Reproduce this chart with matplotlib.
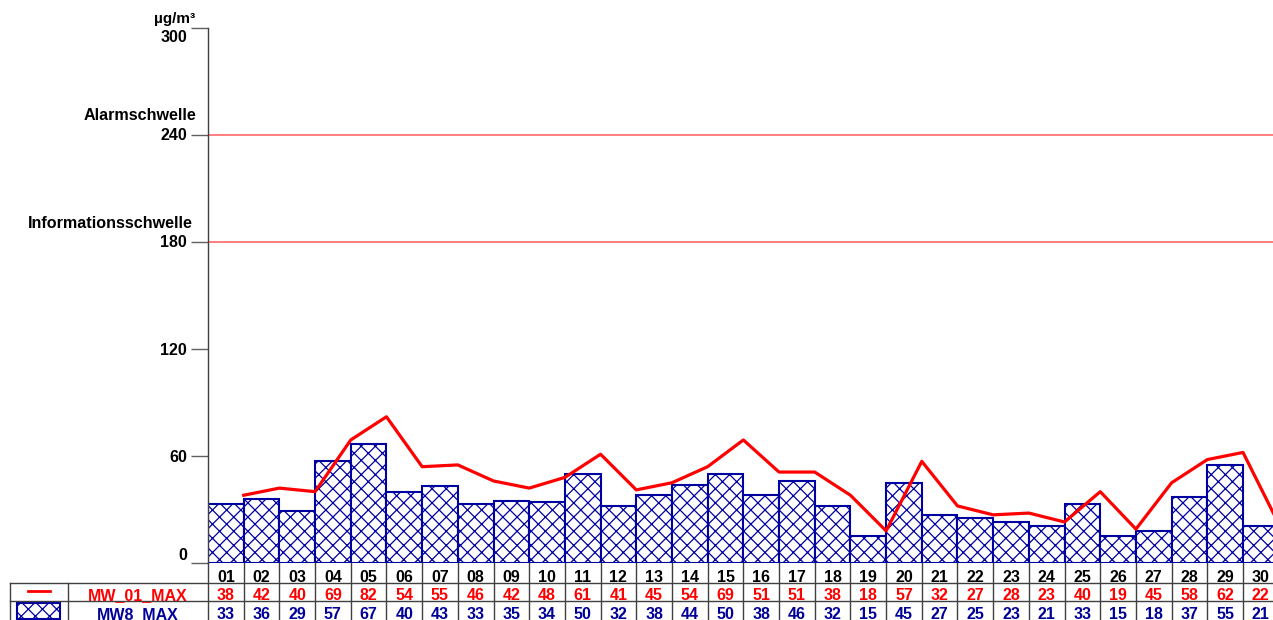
import numpy as np
import matplotlib
matplotlib.use('Agg')
import matplotlib.pyplot as plt
from matplotlib.transforms import blended_transform_factory
from matplotlib.patches import Rectangle
from matplotlib.lines import Line2D

# ---------------- data ----------------
days = [f"{d:02d}" for d in range(1, 31)]
mw01_max = [38, 42, 40, 69, 82, 54, 55, 46, 42, 48, 61, 41, 45, 54, 69,
            51, 51, 38, 18, 57, 32, 27, 28, 23, 40, 19, 45, 58, 62, 22]
mw8_max = [33, 36, 29, 57, 67, 40, 43, 33, 35, 34, 50, 32, 38, 44, 50,
           38, 46, 32, 15, 45, 27, 25, 23, 21, 33, 15, 18, 37, 55, 21]
series_names = ["MW_01_MAX", "MW8_MAX"]
thresholds = [180, 240]
threshold_labels = ["Informationsschwelle", "Alarmschwelle"]
yticks = [0, 60, 120, 180, 240, 300]
unit = "µg/m³"

# dpi chosen so the hatch pattern has the reference's density;
# all point sizes are rescaled by S to keep pixel sizes as designed at 100 dpi
DPI = 85
S = 100 / DPI

plt.rcParams['font.family'] = ['Liberation Sans', 'DejaVu Sans']
plt.rcParams['font.weight'] = 'bold'
plt.rcParams['hatch.linewidth'] = 0.9 * S

RED = '#ff0000'
BLUE = '#0000a0'
BLUE_TXT = '#000099'
GRID = '#404040'

W, H = 1273, 620
fig = plt.figure(figsize=(W / DPI, H / DPI), dpi=DPI)


def fx(px):
    return px / W


def fy(py):
    return 1 - py / H


x_left, x_right = 208, 1278.7
y_zero, y_top = 563, 28
ax = fig.add_axes([fx(x_left), fy(y_zero), (x_right - x_left) / W, (y_zero - y_top) / H])
n = len(days)
ax.set_xlim(0, n)
ax.set_ylim(0, 300)

pos = np.arange(n)
ax.bar(pos + 0.5, mw8_max, width=1.0, facecolor='white', edgecolor=BLUE,
       hatch='xx', linewidth=1.5 * S, zorder=2)
ax.plot(pos + 1, mw01_max, color=RED, lw=2.3 * S, zorder=3)
for t in thresholds:
    ax.axhline(t, color='#ff5a5a', lw=1.1 * S, zorder=1)

for s in ['top', 'right', 'bottom']:
    ax.spines[s].set_visible(False)
ax.spines['left'].set_color('#404040')
ax.spines['left'].set_linewidth(1.0 * S)
ax.set_xticks([])
ax.set_yticks(yticks)
ax.set_yticklabels([])
ax.tick_params(axis='y', length=12 * S, width=1 * S, color='#606060', direction='out')

# y tick labels (manual placement like the reference)
label_y = {300: 37, 240: 135, 180: 243, 120: 350, 60: 457, 0: 555}
for v in yticks:
    fig.text(fx(187), fy(label_y[v]), str(v), ha='right', va='center',
             fontsize=11.5 * S, weight='bold', color='black')

fig.text(fx(196), fy(115), threshold_labels[1], ha='right', va='center',
         fontsize=11.6 * S, weight='bold')
fig.text(fx(193), fy(224), threshold_labels[0], ha='right', va='center',
         fontsize=11.6 * S, weight='bold')
fig.text(fx(195), fy(19), unit, ha='right', va='center', fontsize=11 * S, weight='bold')

# ---------------- data table ----------------
trans = blended_transform_factory(ax.transData, fig.transFigure)
baselines = [581.5, 599.8, 618.7]

for i in range(n + 1):
    fig.add_artist(Line2D([i, i], [fy(563), fy(620)], transform=trans,
                          color=GRID, lw=1.0 * S))
for yline in [582.5, 601]:
    fig.add_artist(Line2D([fx(10), 1.01], [fy(yline), fy(yline)],
                          transform=fig.transFigure, color=GRID, lw=1.0 * S))
for xline in [10, 68]:
    fig.add_artist(Line2D([fx(xline), fx(xline)], [fy(582.5), fy(620)],
                          transform=fig.transFigure, color=GRID, lw=1.0 * S))

for i in range(n):
    ax.text(i + 0.5, fy(baselines[0]), days[i], transform=trans, ha='center',
            va='baseline', fontsize=11.5 * S, weight='bold', color='black', clip_on=False)
    ax.text(i + 0.5, fy(baselines[1]), str(mw01_max[i]), transform=trans, ha='center',
            va='baseline', fontsize=11.5 * S, weight='bold', color=RED, clip_on=False)
    ax.text(i + 0.5, fy(baselines[2]), str(mw8_max[i]), transform=trans, ha='center',
            va='baseline', fontsize=11.5 * S, weight='bold', color=BLUE_TXT, clip_on=False)

fig.text(fx(138), fy(baselines[1]), series_names[0], ha='center', va='baseline',
         fontsize=11.5 * S, weight='bold', color=RED)
fig.text(fx(138), fy(baselines[2]), series_names[1], ha='center', va='baseline',
         fontsize=11.5 * S, weight='bold', color=BLUE_TXT)

# legend symbols
fig.add_artist(Line2D([fx(28), fx(50)], [fy(591), fy(591)], transform=fig.transFigure,
                      color=RED, lw=2.0 * S))
fig.add_artist(Rectangle((fx(17), fy(619)), (60 - 17) / W, 16 / H,
                         transform=fig.transFigure, facecolor='white',
                         edgecolor=BLUE, hatch='xx', lw=1.5 * S))

fig.savefig('out.png', dpi=DPI)
